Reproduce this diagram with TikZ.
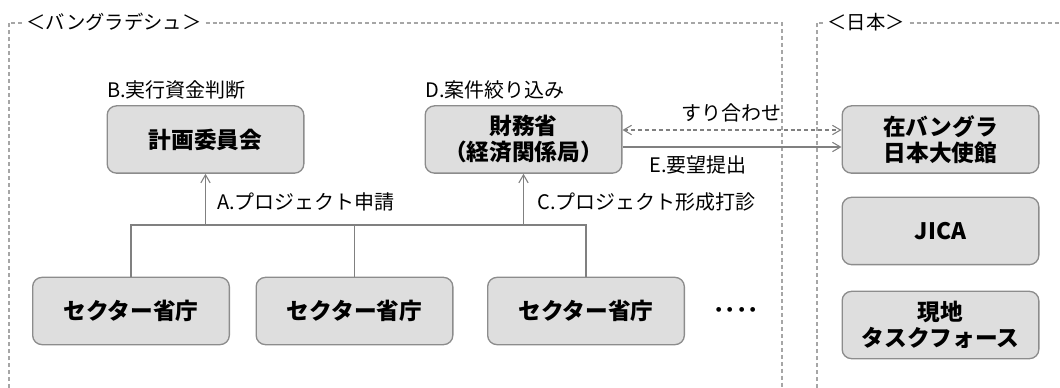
\documentclass[tikz,border=0pt]{standalone}
\usepackage{fontspec}
\setmainfont{Noto Sans CJK JP}
\usetikzlibrary{arrows.meta,calc}
\definecolor{boxfill}{HTML}{DEDEDE}
\definecolor{boxline}{HTML}{8C8C8C}
\definecolor{connc}{HTML}{808080}
\definecolor{framec}{HTML}{A6A6A6}
\begin{document}
\begin{tikzpicture}[x=0.75pt,y=-0.75pt,
  box/.style={draw=boxline, line width=1pt, fill=boxfill, rounded corners=7pt,
    minimum width=147.5pt, minimum height=50.5pt, align=center, inner sep=0pt,
    font=\fontsize{17}{19.5}\selectfont\bfseries},
  lbl/.style={font=\fontsize{15}{17}\selectfont, inner sep=0pt},
  conn/.style={draw=connc, line width=0.8pt},
  tip/.style={-{Straight Barb[length=6pt,width=7pt]}},
  tips/.style={{Straight Barb[length=6pt,width=7pt]}-{Straight Barb[length=6pt,width=7pt]}},
  frm/.style={draw=framec, line width=0.8pt, dash pattern=on 3pt off 2.2pt},
  frmlbl/.style={fill=white, inner xsep=3pt, inner ysep=1pt, font=\fontsize{14.5}{16}\selectfont},
]
\useasboundingbox (0,0) rectangle (1060,388);

% frames
\draw[frm] (9,388) -- (9,23) -- (782,23) -- (782,388);
\draw[frm] (817,388) -- (817,23) -- (1060,23);
\node[frmlbl] (bdlbl) at (114,22) {＜バングラデシュ＞};
\node[frmlbl] (jplbl) at (866,22) {＜日本＞};

% boxes
\node[box] (keikaku) at (205.5,139.5) {計画委員会};
\node[box] (zaimu) at (523.5,139.5) {財務省\\（経済関係局）};
\node[box] (taishi) at (940.5,139.5) {在バングラ\\日本大使館};
\node[box] (jica) at (940.5,231) {JICA};
\node[box] (task) at (940.5,325) {現地\\タスクフォース};
\node[box] (s1) at (131,311) {セクター省庁};
\node[box] (s2) at (354.5,311) {セクター省庁};
\node[box] (s3) at (586,311) {セクター省庁};
\node[font=\fontsize{17}{19.5}\selectfont\bfseries, inner sep=0pt] (dots) at (736,313) {････};

% labels
\node[lbl, anchor=west] (lb) at (107,90) {B.実行資金判断};
\node[lbl, anchor=west] (ld) at (425,90) {D.案件絞り込み};
\node[lbl, anchor=west] (la) at (217,202) {A.プロジェクト申請};
\node[lbl, anchor=west] (lc) at (537,202) {C.プロジェクト形成打診};
\node[lbl] (lsuri) at (731,113) {すり合わせ};
\node[lbl] (le) at (698,165) {E.要望提出};

% tree
\coordinate (bus) at (0,225);
\draw[conn] (s1.north) -- (s1.north |- bus) -- (s3.north |- bus) -- (s3.north);
\draw[conn] (s2.north) -- (s2.north |- bus);
\draw[conn,tip] (keikaku.south |- bus) -- (keikaku.south);
\draw[conn,tip] (zaimu.south |- bus) -- (zaimu.south);

% horizontal arrows
\draw[conn,tips,dash pattern=on 3pt off 2.2pt] ($(zaimu.east)+(0,-9.5)$) -- ($(taishi.west)+(0,-9.5)$);
\draw[conn,tip] ($(zaimu.east)+(0,7.5)$) -- ($(taishi.west)+(0,7.5)$);
\end{tikzpicture}
\end{document}
